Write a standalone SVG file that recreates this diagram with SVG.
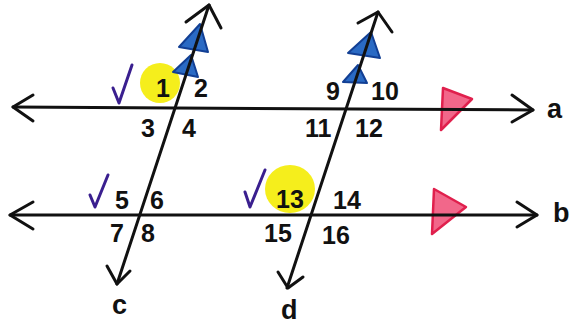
<svg xmlns="http://www.w3.org/2000/svg" width="576" height="326" viewBox="0 0 576 326">
<style>
.ln{stroke:#111;stroke-width:3;fill:none;stroke-linecap:round;stroke-linejoin:round}
.num{font-family:"Liberation Sans",Arial,sans-serif;font-weight:bold;font-size:25px;fill:#111}
.lbl{font-family:"Liberation Sans",Arial,sans-serif;font-weight:bold;font-size:27px;fill:#111}
.chk{stroke:#3a1f8f;stroke-width:3;fill:none;stroke-linecap:round;stroke-linejoin:round}
.hl{fill:#f5ee1c}
.blue{fill:#2a6ac4;stroke:#123f94;stroke-width:2;stroke-linejoin:round}
.red{fill:#f2678a;stroke:#e0204d;stroke-width:2.5;stroke-linejoin:round}
</style>
<rect width="576" height="326" fill="#fff"/>
<g id="highlights">
<ellipse class="hl" cx="160" cy="83" rx="20" ry="20"/>
<ellipse class="hl" cx="290" cy="189" rx="25" ry="24"/>
</g>
<g id="marks">
<polygon class="blue" points="179,47 200,24 208,52"/>
<polygon class="blue" points="173,72 191,55 198,77"/>
<polygon class="blue" points="348,53 371,32 380,58"/>
<polygon class="blue" points="343,82 358,65 367,83"/>
<polygon class="red" points="443,88 472,99 441,130"/>
<polygon class="red" points="434,189 466,207 432,234"/>
</g>
<g id="connectors">
<g id="line-a">
<path class="ln" d="M13,107 L533,110"/>
<path class="ln" d="M33,95 L13,107 L33,121"/>
<path class="ln" d="M512,95 L533,110 L512,122"/>
</g>
<g id="line-b">
<path class="ln" d="M10,215 L537,215"/>
<path class="ln" d="M33,202 L10,215 L33,229"/>
<path class="ln" d="M517,202 L537,215 L517,227"/>
</g>
<g id="line-c">
<path class="ln" d="M209,5 L117,284"/>
<path class="ln" d="M186,22 L209,5 L221,28"/>
<path class="ln" d="M107,266 L117,284 L130,271"/>
</g>
<g id="line-d">
<path class="ln" d="M378,12 L287,288"/>
<path class="ln" d="M358,23 L378,12 L392,32"/>
<path class="ln" d="M278,272 L288,288 L303,277"/>
</g>
</g>
<g id="checks">
<path class="chk" d="M113,88 L119,103 L132,65"/>
<path class="chk" d="M90,195 L95,207 L108,175"/>
<path class="chk" d="M245,192 L250,207 L265,170"/>
</g>
<g id="angles">
<text class="num" x="156" y="97">1</text>
<text class="num" x="194" y="97">2</text>
<text class="num" x="141" y="137">3</text>
<text class="num" x="182" y="137">4</text>
<text class="num" x="326" y="100">9</text>
<text class="num" x="371" y="100">10</text>
<text class="num" x="305" y="137">11</text>
<text class="num" x="355" y="137">12</text>
<text class="num" x="115" y="209">5</text>
<text class="num" x="150" y="209">6</text>
<text class="num" x="110" y="242">7</text>
<text class="num" x="141" y="242">8</text>
<text class="num" x="276" y="208">13</text>
<text class="num" x="333" y="209">14</text>
<text class="num" x="264" y="242">15</text>
<text class="num" x="322" y="244">16</text>
</g>
<g id="labels">
<text class="lbl" x="547" y="118">a</text>
<text class="lbl" x="553" y="222">b</text>
<text class="lbl" x="112" y="314">c</text>
<text class="lbl" x="281" y="319">d</text>
</g>
</svg>
